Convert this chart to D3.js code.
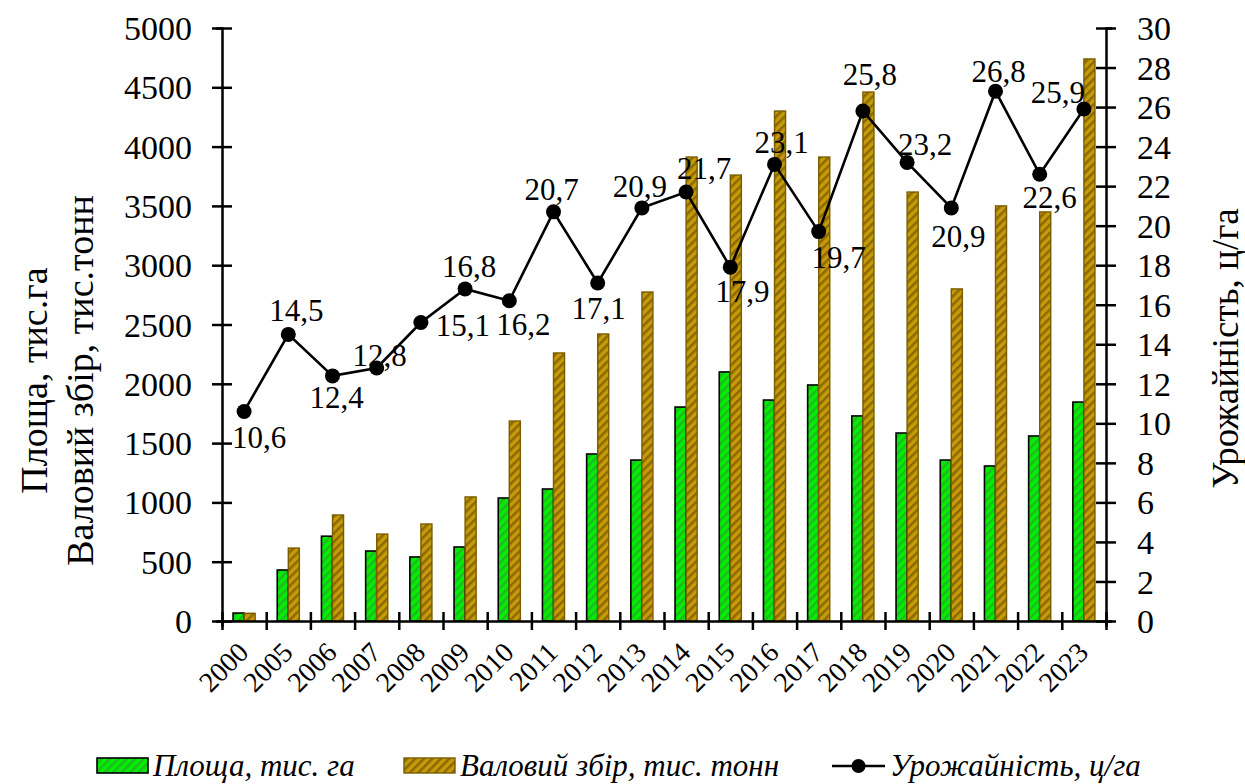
<!DOCTYPE html>
<html>
<head>
<meta charset="utf-8">
<script src="https://cdn.jsdelivr.net/npm/d3@7/dist/d3.min.js"></script>
<style>
  html, body { margin: 0; padding: 0; background: #fff; }
  svg text { font-family: "Liberation Serif", "Times New Roman", serif; fill: #000; }
</style>
</head>
<body>
<svg id="chart" width="1245" height="784"></svg>
<script>
// Years on the category axis
const years = ["2000","2005","2006","2007","2008","2009","2010","2011","2012","2013",
               "2014","2015","2016","2017","2018","2019","2020","2021","2022","2023"];
// Area, thousand ha
const area = [67, 430, 715, 590, 540, 624, 1037, 1113, 1408, 1357,
              1804, 2100, 1863, 1990, 1729, 1585, 1357, 1307, 1560, 1846];
// Gross harvest, thousand tonnes
const harvest = [65, 615, 894, 733, 818, 1046, 1686, 2260, 2420, 2774,
                 3912, 3760, 4300, 3912, 4460, 3617, 2800, 3500, 3449, 4739];
// Yield, centners per ha
const yieldVals = [10.6, 14.5, 12.4, 12.8, 15.1, 16.8, 16.2, 20.7, 17.1, 20.9,
                   21.7, 17.9, 23.1, 19.7, 25.8, 23.2, 20.9, 26.8, 22.6, 25.9];
// Axis tick values
const leftTicks = d3.range(0, 5001, 500);
const rightTicks = d3.range(0, 31, 2);

// Label nudges for the yield labels (dx, dy from the point centre)
const labelNudge = [[15,26],[8,-24],[4,22],[3,-13],[42,3],[4,-22],[14,24],[-2,-22],[1,25],[-2,-21],
                    [18,-24],[12,24],[7,-22],[20,26],[7,-37],[18,-18],[7,29],[3,-20],[10,23],[-26,-17]];

const svg = d3.select("#chart");
const X0 = 222, X1 = 1106, Y0 = 621, Y1 = 28;

const x = d3.scaleBand().domain(years).range([X0, X1]).padding(0);
const bw = x.bandwidth() * 0.25;
const yL = d3.scaleLinear().domain([0, 5000]).range([Y0, Y1]);
const yR = d3.scaleLinear().domain([0, 30]).range([Y0, Y1]);

// Hatched fills
const defs = svg.append("defs");
function hatch(id, base, stripe) {
  const p = defs.append("pattern").attr("id", id)
    .attr("patternUnits", "userSpaceOnUse").attr("width", 6).attr("height", 6)
    .attr("patternTransform", "rotate(45)");
  p.append("rect").attr("width", 6).attr("height", 6).attr("fill", base);
  p.append("rect").attr("width", 2.5).attr("height", 6).attr("fill", stripe);
}
hatch("hGreen", "#00f000", "#22b822");
hatch("hBrown", "#c69a08", "#8a6a00");

// Bars
const bars = svg.append("g");
bars.selectAll("rect.area").data(years).join("rect")
  .attr("class", "area")
  .attr("x", d => x(d) + x.bandwidth() / 2 - bw)
  .attr("width", bw)
  .attr("y", (d, i) => yL(area[i]))
  .attr("height", (d, i) => Y0 - yL(area[i]))
  .attr("fill", "url(#hGreen)").attr("stroke", "#000").attr("stroke-width", 1.6);
bars.selectAll("rect.harv").data(years).join("rect")
  .attr("class", "harv")
  .attr("x", d => x(d) + x.bandwidth() / 2)
  .attr("width", bw)
  .attr("y", (d, i) => yL(harvest[i]))
  .attr("height", (d, i) => Y0 - yL(harvest[i]))
  .attr("fill", "url(#hBrown)").attr("stroke", "#7a5c00").attr("stroke-width", 1.4);

// Left axis
const gL = svg.append("g").attr("transform", `translate(${X0},0)`)
  .call(d3.axisLeft(yL).tickValues(leftTicks).tickFormat(d3.format("d")));
gL.select(".domain").attr("stroke", "#000").attr("stroke-width", 2.5);
gL.selectAll(".tick line").attr("x1", -10).attr("x2", 10).attr("stroke", "#000").attr("stroke-width", 2.5);
gL.selectAll(".tick text").attr("x", -30).attr("dy", "0.34em")
  .style("font-family", "Liberation Serif").style("font-size", "34px");

// Right axis
const gR = svg.append("g").attr("transform", `translate(${X1},0)`)
  .call(d3.axisRight(yR).tickValues(rightTicks).tickFormat(d3.format("d")));
gR.select(".domain").attr("stroke", "#000").attr("stroke-width", 2.5);
gR.selectAll(".tick line").attr("x1", -10).attr("x2", 10).attr("stroke", "#000").attr("stroke-width", 2.5);
gR.selectAll(".tick text").attr("x", 31).attr("dy", "0.34em")
  .style("font-family", "Liberation Serif").style("font-size", "34px");

// Bottom axis: tick marks on category boundaries
const xb = d3.scaleLinear().domain([0, years.length]).range([X0, X1]);
const gB = svg.append("g").attr("transform", `translate(0,${Y0})`)
  .call(d3.axisBottom(xb).tickValues(d3.range(years.length + 1)).tickFormat(""));
gB.select(".domain").attr("stroke", "#000").attr("stroke-width", 2.5);
gB.selectAll(".tick line").attr("y1", -9).attr("y2", 9).attr("stroke", "#000").attr("stroke-width", 2.5);

// Year labels
svg.append("g").selectAll("text").data(years).join("text")
  .attr("transform", d => `translate(${x(d) + x.bandwidth() / 2 + 6},${Y0 + 33}) rotate(-45)`)
  .attr("text-anchor", "end")
  .style("font-size", "28px")
  .text(d => d);

// Yield line and markers
const pts = years.map((d, i) => [x(d) + x.bandwidth() / 2, yR(yieldVals[i])]);
svg.append("path").datum(pts)
  .attr("d", d3.line())
  .attr("fill", "none").attr("stroke", "#000").attr("stroke-width", 2.6);
svg.append("g").selectAll("circle").data(pts).join("circle")
  .attr("cx", d => d[0]).attr("cy", d => d[1]).attr("r", 7.5).attr("fill", "#000");

// Yield labels
const fmt = v => d3.format(".1f")(v).replace(".", ",");
svg.append("g").selectAll("text").data(yieldVals).join("text")
  .attr("x", (v, i) => pts[i][0] + labelNudge[i][0])
  .attr("y", (v, i) => pts[i][1] + labelNudge[i][1])
  .attr("dy", "0.34em")
  .attr("text-anchor", "middle")
  .style("font-size", "31px")
  .text(fmt);

// Axis titles
const yMid = (Y0 + Y1) / 2;
svg.append("text").attr("transform", `translate(47,${yMid + 56}) rotate(-90)`)
  .attr("text-anchor", "middle").style("font-size", "38px").text("Площа, тис.га");
svg.append("text").attr("transform", `translate(93,${yMid + 56}) rotate(-90)`)
  .attr("text-anchor", "middle").style("font-size", "38px").text("Валовий збір, тис.тонн");
svg.append("text").attr("transform", `translate(1238,${yMid + 24}) rotate(-90)`)
  .attr("text-anchor", "middle").style("font-size", "37px").text("Урожайність, ц/га");

// Legend
const leg = svg.append("g").attr("transform", "translate(0,765)");
leg.append("rect").attr("x", 97).attr("y", -7).attr("width", 51).attr("height", 15)
  .attr("fill", "url(#hGreen)").attr("stroke", "#000").attr("stroke-width", 1.6);
leg.append("text").attr("x", 153).attr("dy", "0.34em").style("font-size", "31px")
  .style("font-style", "italic").text("Площа, тис. га");
leg.append("rect").attr("x", 404).attr("y", -7).attr("width", 51).attr("height", 15)
  .attr("fill", "url(#hBrown)").attr("stroke", "#7a5c00").attr("stroke-width", 1.4);
leg.append("text").attr("x", 460).attr("dy", "0.34em").style("font-size", "31px")
  .style("font-style", "italic").text("Валовий збір, тис. тонн");
leg.append("line").attr("x1", 832).attr("x2", 885).attr("y1", 1).attr("y2", 1)
  .attr("stroke", "#000").attr("stroke-width", 2.6);
leg.append("circle").attr("cx", 858.5).attr("cy", 1).attr("r", 7).attr("fill", "#000");
leg.append("text").attr("x", 890).attr("dy", "0.34em").style("font-size", "31px")
  .style("font-style", "italic").text("Урожайність, ц/га");
</script>
</body>
</html>
